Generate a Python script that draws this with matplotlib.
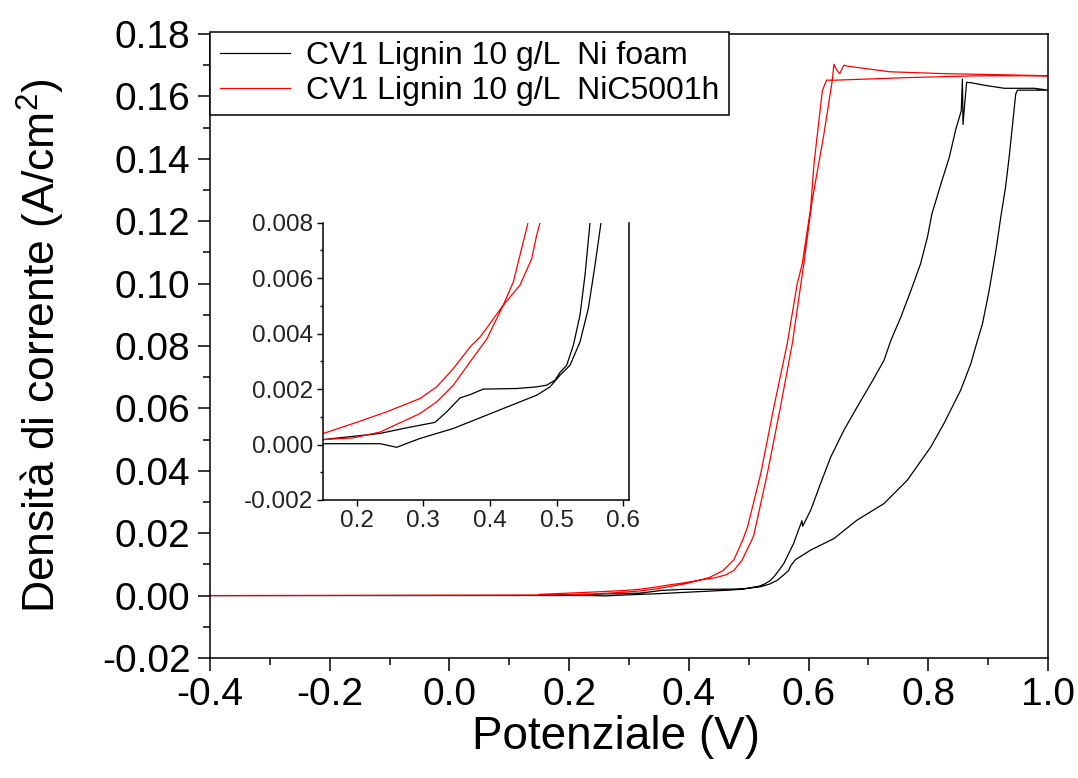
import matplotlib
matplotlib.use("Agg")
import matplotlib.pyplot as plt
from matplotlib.ticker import MultipleLocator, FormatStrFormatter

plt.rcParams['font.family'] = ['Liberation Sans', 'DejaVu Sans']
plt.rcParams['mathtext.fontset'] = 'custom'
plt.rcParams['mathtext.rm'] = 'Liberation Sans'
plt.rcParams['mathtext.it'] = 'Liberation Sans:italic'

# Ni foam: anodic sweep and return sweep (V, A/cm2)
ni_fwd_v = [0.15, 0.235, 0.27, 0.3175, 0.335, 0.355, 0.37, 0.39, 0.44, 0.47, 0.485,
            0.4975, 0.505, 0.515, 0.525, 0.535, 0.5425, 0.55, 0.5587, 0.575, 0.586,
            0.589, 0.590, 0.6036, 0.62, 0.637, 0.659, 0.681, 0.704, 0.726, 0.7375,
            0.754, 0.771, 0.787, 0.7985, 0.806, 0.821, 0.835, 0.846, 0.855, 0.857,
            0.858, 0.861, 0.864, 0.871, 0.893, 0.927, 0.977, 1.0]
ni_fwd_j = [0.00018, 0.0004, 0.00058, 0.0008, 0.00118, 0.00168, 0.0018, 0.002, 0.00202,
            0.00208, 0.00214, 0.00232, 0.0026, 0.00286, 0.00358, 0.00467, 0.00611, 0.008,
            0.0103, 0.0167, 0.0225, 0.024, 0.0222, 0.0274, 0.0359, 0.0444, 0.053, 0.0604,
            0.0679, 0.0754, 0.0818, 0.0892, 0.0978, 0.1063, 0.1148, 0.1223, 0.1319,
            0.1404, 0.1495, 0.1553, 0.1655, 0.151, 0.158, 0.1645, 0.1644, 0.1636,
            0.1626, 0.1626, 0.162]
ni_rev_v = [1.0, 0.949, 0.946, 0.942, 0.935, 0.929, 0.921, 0.913, 0.9017, 0.8905, 0.881,
            0.871, 0.854, 0.826, 0.804, 0.765, 0.726, 0.681, 0.6425, 0.6036, 0.578,
            0.570, 0.5665, 0.5575, 0.5475, 0.535, 0.52, 0.505, 0.49, 0.47, 0.42, 0.37,
            0.345, 0.32, 0.295, 0.275, 0.26, 0.245, 0.235, 0.15, -0.4]
ni_rev_j = [0.162, 0.162, 0.1607, 0.1532, 0.1404, 0.1308, 0.1212, 0.1106, 0.0978, 0.0871,
            0.081, 0.0743, 0.0658, 0.0551, 0.0476, 0.037, 0.0295, 0.0242, 0.0183, 0.0146,
            0.0115, 0.0095, 0.008, 0.00647, 0.00491, 0.0037, 0.00286, 0.0025, 0.00208,
            0.00178, 0.0013, 0.00082, 0.00058, 0.0004, 0.00022, 0.00004, -0.0001,
            -0.00002, 0.00003, 0.00003, 0.0]

# NiC5001h: anodic sweep and return sweep (V, A/cm2)
nic_fwd_v = [0.15, 0.195, 0.245, 0.295, 0.32, 0.345, 0.37, 0.385, 0.395, 0.42, 0.445,
             0.4625, 0.47, 0.475, 0.489, 0.508, 0.531, 0.553, 0.573, 0.592, 0.606,
             0.6256, 0.6395, 0.6423, 0.647, 0.652, 0.659, 0.665, 0.735, 0.826, 0.932, 1.0]
nic_fwd_j = [0.0004, 0.00076, 0.00118, 0.00166, 0.00208, 0.00274, 0.00352, 0.00388,
             0.0042, 0.00503, 0.00575, 0.0067, 0.00755, 0.008, 0.0114, 0.019, 0.039,
             0.0604, 0.081, 0.1063, 0.1266, 0.1479, 0.165, 0.1703, 0.1685, 0.1673, 0.170,
             0.1697, 0.1679, 0.1673, 0.1669, 0.1666]
nic_rev_v = [1.0, 0.88, 0.76, 0.645, 0.630, 0.623, 0.609, 0.6036, 0.5894, 0.581, 0.5643,
             0.542, 0.52, 0.498, 0.49, 0.475, 0.457, 0.4475, 0.435, 0.42, 0.395, 0.37,
             0.345, 0.32, 0.295, 0.27, 0.235, 0.195, 0.15, -0.4]
nic_rev_j = [0.1666, 0.1666, 0.1660, 0.1652, 0.1652, 0.1618, 0.1383, 0.1244, 0.1063,
             0.0999, 0.0807, 0.0604, 0.039, 0.022, 0.0178, 0.0114, 0.008, 0.00708,
             0.00587, 0.00503, 0.0038, 0.00298, 0.00214, 0.00154, 0.00112, 0.00084,
             0.00045, 0.00024, 0.00018, 0.0]

labels = ["CV1 Lignin 10 g/L  Ni foam", "CV1 Lignin 10 g/L  NiC5001h"]
colors = ["#000000", "#ff0000"]

ni_v = ni_fwd_v + ni_rev_v
ni_j = ni_fwd_j + ni_rev_j
nic_v = nic_fwd_v + nic_rev_v
nic_j = nic_fwd_j + nic_rev_j

fig = plt.figure(figsize=(10.78, 7.78), dpi=100)
ax = fig.add_axes([210 / 1078, 1 - 658 / 778, 838 / 1078, 624 / 778])

ax.plot(ni_v, ni_j, color=colors[0], lw=0.9, label=labels[0])
ax.plot(nic_v, nic_j, color=colors[1], lw=0.9, label=labels[1])

ax.set_xlim(-0.4, 1.0)
ax.set_ylim(-0.02, 0.18)
ax.xaxis.set_major_locator(MultipleLocator(0.2))
ax.xaxis.set_minor_locator(MultipleLocator(0.1))
ax.yaxis.set_major_locator(MultipleLocator(0.02))
ax.yaxis.set_minor_locator(MultipleLocator(0.01))
ax.xaxis.set_major_formatter(FormatStrFormatter('%.1f'))
ax.yaxis.set_major_formatter(FormatStrFormatter('%.2f'))
ax.tick_params(which='both', direction='out', top=False, right=False, width=1.1)
ax.tick_params(which='major', length=9, labelsize=28, pad=5)
ax.tick_params(which='minor', length=5)
for s in ax.spines.values():
    s.set_linewidth(1.1)

ax.set_xlabel("Potenziale (V)", fontsize=33)
ax.set_ylabel("Densità di corrente (A/cm$^2$)", fontsize=32)
ax.xaxis.set_label_coords(0.4845, -0.092)
ax.yaxis.set_label_coords(-0.171, 0.5)

leg = ax.legend(loc='upper left', bbox_to_anchor=(0.0, 1.004), borderaxespad=0,
                fontsize=23, fancybox=False, edgecolor='black', framealpha=1,
                borderpad=0.3, labelspacing=0.15, handlelength=2.2, handletextpad=0.5)
leg.get_frame().set_linewidth(1.1)

# zoomed view of the onset region
ins = fig.add_axes([323 / 1078, 1 - 500 / 778, 306 / 1078, 277.3 / 778])
ins.plot(ni_v, ni_j, color=colors[0], lw=0.9)
ins.plot(nic_v, nic_j, color=colors[1], lw=0.9)
ins.set_xlim(0.1494, 0.6085)
ins.set_ylim(-0.002, 0.008)
ins.xaxis.set_major_locator(MultipleLocator(0.1))
ins.yaxis.set_major_locator(MultipleLocator(0.002))
ins.yaxis.set_minor_locator(MultipleLocator(0.001))
ins.xaxis.set_major_formatter(FormatStrFormatter('%.1f'))
ins.yaxis.set_major_formatter(FormatStrFormatter('%.3f'))
ins.spines['top'].set_visible(False)
for s in ['left', 'right', 'bottom']:
    ins.spines[s].set_linewidth(1.1)
ins.tick_params(which='both', direction='out', top=False, right=False, width=1.0,
                labelsize=17.5, labelcolor='#222222')
ins.tick_params(which='major', length=4, pad=3)
ins.tick_params(which='minor', length=2.5)

fig.savefig("out.png", dpi=100)
